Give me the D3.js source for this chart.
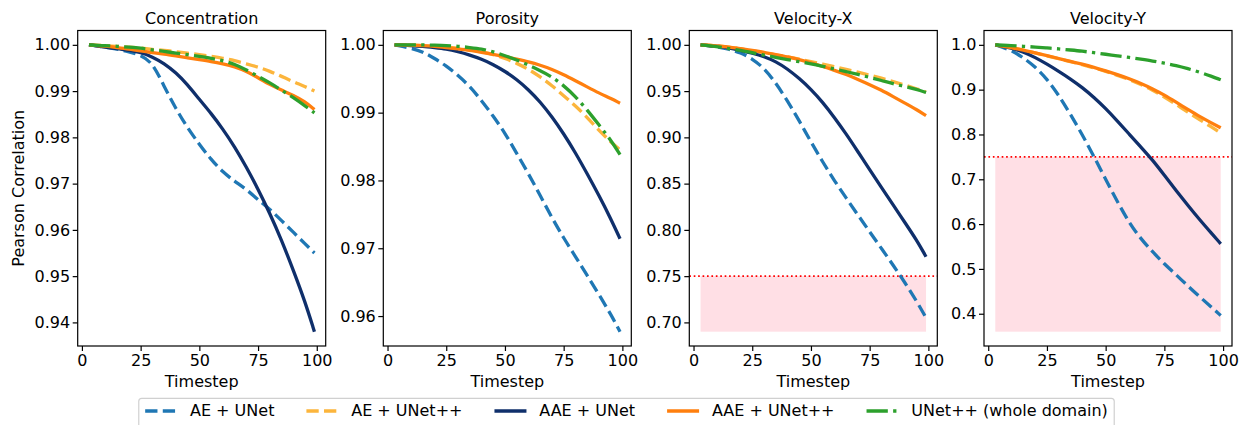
<!DOCTYPE html>
<html>
<head>
<meta charset="utf-8">
<script src="https://cdnjs.cloudflare.com/ajax/libs/d3/7.8.5/d3.min.js"></script>
<style>
	body { margin: 0; background: #fff; }
	text { font-family: "DejaVu Sans", sans-serif; fill: #000; }
</style>
</head>
<body>
<div id="viz-container"></div>
<script>
// timesteps shared by every curve
var timesteps = [3, 10, 15, 20, 25, 30, 35, 40, 45, 50, 55, 60, 65, 70, 75, 80, 85, 90, 95, 99];

var seriesNames = ['AE + UNet', 'AE + UNet++', 'AAE + UNet', 'AAE + UNet++', 'UNet++ (whole domain)'];

// Concentration
var concAE     = [1.0, 0.9995, 0.9991, 0.9985, 0.9978, 0.9962, 0.9910, 0.9862, 0.9820, 0.9785, 0.9752, 0.9725, 0.9705, 0.9688, 0.9665, 0.9645, 0.9620, 0.9595, 0.9570, 0.9550];
var concAEpp   = [1.0, 0.9998, 0.9997, 0.9995, 0.9993, 0.9990, 0.9988, 0.9985, 0.9982, 0.9979, 0.9975, 0.9971, 0.9966, 0.9959, 0.9952, 0.9943, 0.9932, 0.9920, 0.9910, 0.9900];
var concAAE    = [1.0, 0.9995, 0.9992, 0.9988, 0.9984, 0.9974, 0.9960, 0.9940, 0.9914, 0.9882, 0.9852, 0.9818, 0.9780, 0.9736, 0.9688, 0.9636, 0.9578, 0.9513, 0.9445, 0.9380];
var concAAEpp  = [1.0, 0.9997, 0.9994, 0.9991, 0.9987, 0.9983, 0.9980, 0.9976, 0.9972, 0.9968, 0.9964, 0.9959, 0.9953, 0.9943, 0.9929, 0.9914, 0.9902, 0.9891, 0.9877, 0.9860];
var concWhole  = [1.0, 0.9998, 0.9997, 0.9995, 0.9993, 0.9989, 0.9986, 0.9982, 0.9979, 0.9975, 0.9971, 0.9966, 0.9958, 0.9946, 0.9932, 0.9918, 0.9902, 0.9886, 0.9868, 0.9853];

// Porosity
var poroAE     = [1.0, 0.9995, 0.9990, 0.9980, 0.9969, 0.9955, 0.9939, 0.9918, 0.9895, 0.9870, 0.9840, 0.9810, 0.9778, 0.9745, 0.9715, 0.9688, 0.9660, 0.9632, 0.9603, 0.9577];
var poroAEpp   = [1.0, 0.99995, 0.9999, 0.9998, 0.9997, 0.9995, 0.9993, 0.9990, 0.9986, 0.9980, 0.9973, 0.9964, 0.9953, 0.9940, 0.9925, 0.9910, 0.9893, 0.9874, 0.9857, 0.9845];
var poroAAE    = [1.0, 0.9999, 0.9998, 0.9996, 0.9994, 0.9990, 0.9985, 0.9979, 0.9971, 0.9961, 0.9949, 0.9934, 0.9916, 0.9894, 0.9869, 0.9841, 0.9810, 0.9778, 0.9744, 0.9714];
var poroAAEpp  = [1.0, 0.99995, 0.9999, 0.9998, 0.9996, 0.9994, 0.9992, 0.9989, 0.9986, 0.9983, 0.9979, 0.9975, 0.9970, 0.9964, 0.9956, 0.9947, 0.9938, 0.9929, 0.9921, 0.9914];
var poroWhole  = [1.0, 1.0, 1.0, 0.99995, 0.9999, 0.9998, 0.9996, 0.9994, 0.9990, 0.9984, 0.9978, 0.9970, 0.9962, 0.9953, 0.9940, 0.9924, 0.9904, 0.9882, 0.9860, 0.9838];

// Velocity-X
var velxAE     = [1.0, 0.998, 0.9955, 0.9915, 0.985, 0.975, 0.959, 0.9395, 0.918, 0.895, 0.8735, 0.853, 0.8345, 0.816, 0.798, 0.780, 0.762, 0.743, 0.723, 0.705];
var velxAEpp   = [1.0, 0.999, 0.9975, 0.9955, 0.9935, 0.9915, 0.9893, 0.987, 0.9845, 0.982, 0.9793, 0.9765, 0.9735, 0.9705, 0.9673, 0.964, 0.9603, 0.9565, 0.9525, 0.949];
var velxAAE    = [1.0, 0.9985, 0.997, 0.994, 0.991, 0.9875, 0.982, 0.974, 0.9638, 0.952, 0.938, 0.9215, 0.9037, 0.8845, 0.865, 0.846, 0.827, 0.808, 0.789, 0.771];
var velxAAEpp  = [1.0, 0.999, 0.9975, 0.996, 0.994, 0.992, 0.9895, 0.987, 0.984, 0.9805, 0.9767, 0.9725, 0.968, 0.9627, 0.957, 0.951, 0.944, 0.937, 0.930, 0.9235];
var velxWhole  = [1.0, 0.998, 0.996, 0.994, 0.9915, 0.989, 0.9865, 0.984, 0.9818, 0.9795, 0.9768, 0.974, 0.971, 0.968, 0.9648, 0.9615, 0.958, 0.955, 0.9518, 0.9485];

// Velocity-Y
var velyAE     = [1.0, 0.988, 0.971, 0.951, 0.924, 0.888, 0.845, 0.800, 0.751, 0.700, 0.650, 0.603, 0.567, 0.538, 0.511, 0.487, 0.462, 0.438, 0.415, 0.396];
var velyAEpp   = [1.0, 0.994, 0.988, 0.982, 0.9755, 0.969, 0.9625, 0.956, 0.9488, 0.941, 0.932, 0.923, 0.912, 0.899, 0.884, 0.867, 0.850, 0.833, 0.817, 0.803];
var velyAAE    = [1.0, 0.993, 0.984, 0.972, 0.957, 0.941, 0.924, 0.905, 0.883, 0.858, 0.830, 0.801, 0.772, 0.743, 0.709, 0.675, 0.642, 0.610, 0.580, 0.556];
var velyAAEpp  = [1.0, 0.994, 0.988, 0.982, 0.976, 0.9695, 0.963, 0.957, 0.950, 0.942, 0.9335, 0.9245, 0.914, 0.902, 0.888, 0.872, 0.856, 0.840, 0.826, 0.815];
var velyWhole  = [1.0, 0.998, 0.9968, 0.995, 0.993, 0.991, 0.9885, 0.986, 0.9825, 0.979, 0.9755, 0.972, 0.968, 0.964, 0.959, 0.954, 0.947, 0.939, 0.930, 0.922];

var panelTitles = ['Concentration', 'Porosity', 'Velocity-X', 'Velocity-Y'];
var yTickValues = [
	[0.94, 0.95, 0.96, 0.97, 0.98, 0.99, 1.00],
	[0.96, 0.97, 0.98, 0.99, 1.00],
	[0.70, 0.75, 0.80, 0.85, 0.90, 0.95, 1.00],
	[0.4, 0.5, 0.6, 0.7, 0.8, 0.9, 1.0]
];
var yTickFormats = ['.2f', '.2f', '.2f', '.1f'];
var xTickValues = [0, 25, 50, 75, 100];
var threshold = 0.75;
var shadeLow = [null, null, 0.69, 0.36];

var panelSeries = [
	[concAE, concAEpp, concAAE, concAAEpp, concWhole],
	[poroAE, poroAEpp, poroAAE, poroAAEpp, poroWhole],
	[velxAE, velxAEpp, velxAAE, velxAAEpp, velxWhole],
	[velyAE, velyAEpp, velyAAE, velyAAEpp, velyWhole]
];

// styles
var seriesColors = ['#1f77b4', '#fcb53c', '#0f2f6b', '#ff7f0e', '#2ca02c'];
var seriesDash = ['12.3,5.3', '12.3,5.3', null, null, '21.3,5.3,3.3,5.3'];
var lineWidth = 3.3;

var W = 1244, H = 425;
var panelLeft = [77.7, 383.3, 689.3, 984],
	panelWidth = 248,
	panelTop = 30.5,
	panelBottom = 346;

var svg = d3.select('#viz-container')
	.append('svg')
	.attr('width', W)
	.attr('height', H);

function padded (lo, hi) {
	var m = (hi - lo) * 0.05;
	return [lo - m, hi + m];
}

var xExt = d3.extent(timesteps);

panelSeries.forEach(function (series, p) {
	var left = panelLeft[p];
	var x = d3.scaleLinear()
		.domain(padded(xExt[0], xExt[1]))
		.range([left, left + panelWidth]);

	var lo = d3.min(series, function (s) { return d3.min(s); }),
		hi = d3.max(series, function (s) { return d3.max(s); });
	if (shadeLow[p] !== null) lo = Math.min(lo, shadeLow[p]);
	var y = d3.scaleLinear()
		.domain(padded(lo, hi))
		.range([panelBottom, panelTop]);

	var g = svg.append('g');

	// shaded failure zone + threshold line
	if (shadeLow[p] !== null) {
		g.append('rect')
			.attr('x', x(xExt[0]))
			.attr('y', y(threshold))
			.attr('width', x(xExt[1]) - x(xExt[0]))
			.attr('height', y(shadeLow[p]) - y(threshold))
			.attr('fill', 'rgb(255,192,203)')
			.attr('fill-opacity', 0.5);
		g.append('line')
			.attr('x1', left)
			.attr('x2', left + panelWidth)
			.attr('y1', y(threshold))
			.attr('y2', y(threshold))
			.attr('stroke', 'red')
			.attr('stroke-width', 1.67)
			.attr('stroke-dasharray', '1.67,2.75');
	}

	var line = d3.line()
		.x(function (d, i) { return x(timesteps[i]); })
		.y(function (d) { return y(d); })
		.curve(d3.curveBasis);

	g.selectAll('path.series')
		.data(series)
		.enter()
		.append('path')
		.attr('class', 'series')
		.attr('d', line)
		.attr('fill', 'none')
		.attr('stroke', function (d, i) { return seriesColors[i]; })
		.attr('stroke-width', lineWidth)
		.attr('stroke-linejoin', 'round')
		.attr('stroke-dasharray', function (d, i) { return seriesDash[i]; });

	// axes
	var xAxis = g.append('g')
		.attr('transform', 'translate(0,' + panelBottom + ')')
		.call(d3.axisBottom(x).tickValues(xTickValues).tickSize(5).tickPadding(3.5));
	var yAxis = g.append('g')
		.attr('transform', 'translate(' + left + ',0)')
		.call(d3.axisLeft(y).tickValues(yTickValues[p]).tickSize(5).tickPadding(2.5)
			.tickFormat(d3.format(yTickFormats[p])));
	[xAxis, yAxis].forEach(function (a) {
		a.select('.domain').remove();
		a.selectAll('line').attr('stroke', '#000').attr('stroke-width', 1.2);
		a.selectAll('text').style('font-size', '16px').attr('fill', '#000')
			.style('font-family', '"DejaVu Sans", sans-serif');
	});

	g.append('rect')
		.attr('x', left)
		.attr('y', panelTop)
		.attr('width', panelWidth)
		.attr('height', panelBottom - panelTop)
		.attr('fill', 'none')
		.attr('stroke', '#000')
		.attr('stroke-width', 1.2);

	g.append('text')
		.attr('x', left + panelWidth / 2)
		.attr('y', 23.5)
		.attr('text-anchor', 'middle')
		.style('font-size', '16px')
		.text(panelTitles[p]);

	g.append('text')
		.attr('x', left + panelWidth / 2)
		.attr('y', 386.7)
		.attr('text-anchor', 'middle')
		.style('font-size', '16px')
		.text('Timestep');

	if (p === 0) {
		g.append('text')
			.attr('transform', 'translate(24,' + ((panelTop + panelBottom) / 2) + ') rotate(-90)')
			.attr('text-anchor', 'middle')
			.style('font-size', '16px')
			.text('Pearson Correlation');
	}
});

// legend
var legend = svg.append('g');
var legendBox = legend.append('rect');
var em = 16, cursor = 0, rowY = 411;
var items = legend.selectAll('g.item')
	.data(seriesNames)
	.enter()
	.append('g')
	.attr('class', 'item');

items.each(function (name, i) {
	var it = d3.select(this);
	it.append('line')
		.attr('x1', cursor)
		.attr('x2', cursor + 2 * em)
		.attr('y1', rowY)
		.attr('y2', rowY)
		.attr('stroke', seriesColors[i])
		.attr('stroke-width', lineWidth)
		.attr('stroke-dasharray', seriesDash[i]);
	var t = it.append('text')
		.attr('x', cursor + 2 * em + 0.8 * em)
		.attr('y', rowY)
		.attr('dy', '0.32em')
		.style('font-size', '16px')
		.text(name);
	cursor = cursor + 2.8 * em + t.node().getComputedTextLength() + 2 * em;
});
var contentW = cursor - 2 * em;
var boxW = contentW + 0.8 * em;
var boxX = 626.5 - boxW / 2;
items.attr('transform', 'translate(' + (boxX + 0.4 * em) + ',0)');
legendBox
	.attr('x', boxX)
	.attr('y', 398.3)
	.attr('width', boxW)
	.attr('height', 32)
	.attr('rx', 3)
	.attr('fill', '#fff')
	.attr('fill-opacity', 0.8)
	.attr('stroke', '#d0d0d0')
	.attr('stroke-width', 1.2);
</script>
</body>
</html>
